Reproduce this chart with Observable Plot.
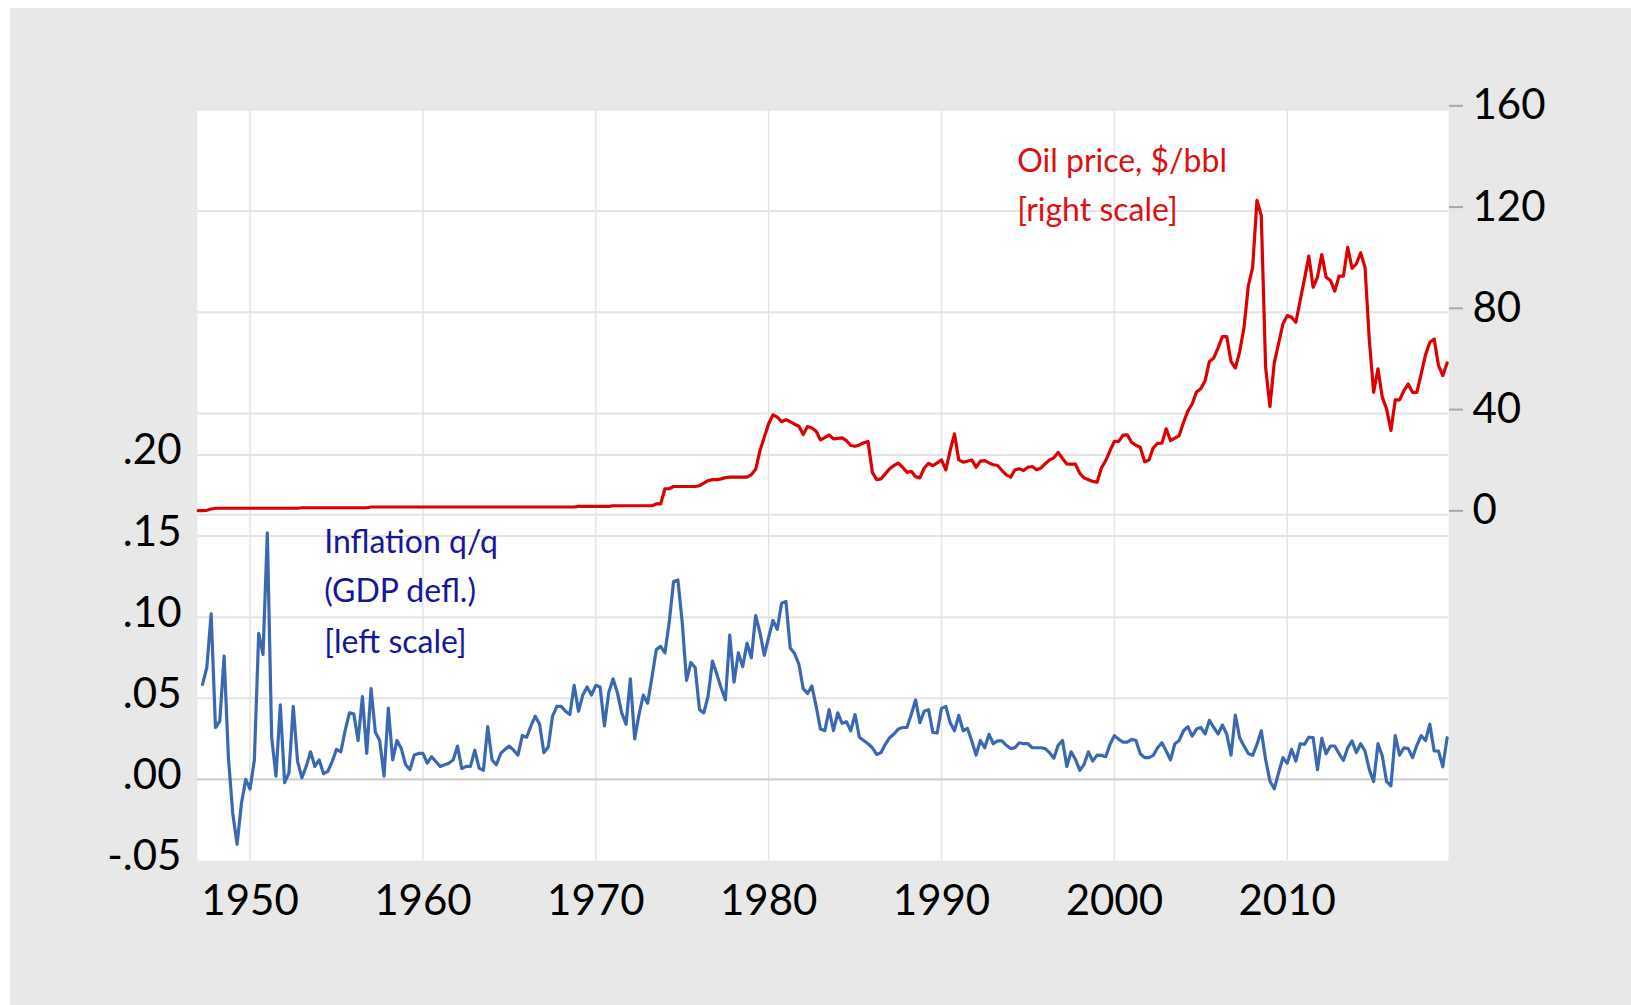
<!DOCTYPE html>
<html>
<head>
<meta charset="utf-8">
<script src="https://cdn.jsdelivr.net/npm/d3@7"></script>
<script src="https://cdn.jsdelivr.net/npm/@observablehq/plot@0.6"></script>
<style>
html, body { margin: 0; padding: 0; background: #ffffff; overflow: hidden; }
#chart { position: absolute; left: 10px; top: 8px; }
</style>
</head>
<body>
<div id="chart"></div>
<script>
// ---- data ----
const firstYear = 1947; // quarterly series, 1947Q1 .. 2019Q2

// Inflation q/q (GDP deflator), from 1947Q2 to 2019Q2 (left scale)
const inflation = [
  0.0586, 0.069, 0.102,
  0.032, 0.036, 0.076, 0.013,
  -0.021, -0.040, -0.015, 0.000,
  -0.006, 0.012, 0.090, 0.077,
  0.152, 0.026, 0.002, 0.046,
  -0.002, 0.004, 0.045, 0.011,
  0.001, 0.008, 0.017, 0.008,
  0.012, 0.0035, 0.005, 0.011,
  0.0185, 0.017, 0.030, 0.041,
  0.0405, 0.024, 0.051, 0.016,
  0.056, 0.029, 0.024, 0.002,
  0.044, 0.012, 0.024, 0.019,
  0.009, 0.006, 0.015, 0.016,
  0.016, 0.010, 0.014, 0.011,
  0.008, 0.009, 0.010, 0.012,
  0.0205, 0.0066, 0.008, 0.008,
  0.018, 0.007, 0.0056, 0.0325,
  0.012, 0.009, 0.016, 0.0185,
  0.0205, 0.018, 0.015, 0.027,
  0.026, 0.033, 0.039, 0.034,
  0.0165, 0.020, 0.039, 0.045,
  0.045, 0.042, 0.040, 0.058,
  0.042, 0.052, 0.057, 0.052,
  0.058, 0.057, 0.033, 0.0535,
  0.062, 0.0535, 0.041, 0.034,
  0.062, 0.025, 0.040, 0.052,
  0.047, 0.063, 0.080, 0.082,
  0.078, 0.097, 0.122, 0.123,
  0.097, 0.061, 0.072, 0.069,
  0.043, 0.041, 0.0515, 0.073,
  0.065, 0.0565, 0.049, 0.089,
  0.060, 0.078, 0.0695, 0.084,
  0.075, 0.101, 0.0905, 0.0765,
  0.0875, 0.098, 0.0925, 0.1086,
  0.1097, 0.081, 0.0776, 0.071,
  0.056, 0.053, 0.0576, 0.045,
  0.031, 0.030, 0.043, 0.030,
  0.041, 0.0346, 0.0356, 0.030,
  0.040, 0.026, 0.024, 0.022,
  0.0195, 0.0154, 0.0165, 0.0216,
  0.0257, 0.028, 0.031, 0.032,
  0.032, 0.040, 0.049, 0.035,
  0.042, 0.043, 0.029, 0.0286,
  0.0438, 0.045, 0.035, 0.030,
  0.0395, 0.030, 0.0315, 0.0237,
  0.015, 0.024, 0.0195, 0.0278,
  0.022, 0.0237, 0.0237, 0.021,
  0.019, 0.0195, 0.0226, 0.022,
  0.022, 0.0195, 0.0195, 0.0195,
  0.019, 0.0165, 0.013, 0.021,
  0.024, 0.008, 0.017, 0.0123,
  0.0056, 0.0093, 0.017, 0.0113,
  0.015, 0.0148, 0.014, 0.0216,
  0.027, 0.0247, 0.023, 0.023,
  0.0247, 0.024, 0.0158, 0.0134,
  0.0134, 0.0148, 0.0195, 0.0226,
  0.0175, 0.012, 0.022, 0.024,
  0.030, 0.0325, 0.0267, 0.031,
  0.032, 0.028, 0.0364, 0.032,
  0.028, 0.0335, 0.028, 0.015,
  0.0397, 0.0257, 0.0206, 0.016,
  0.0148, 0.0216, 0.030, 0.0123,
  -0.001, -0.0058, 0.004, 0.0134,
  0.010, 0.0185, 0.0113, 0.022,
  0.0216, 0.026, 0.0257, 0.006,
  0.0253, 0.0158, 0.0206, 0.0206,
  0.0158, 0.0117, 0.0195, 0.0237,
  0.0165, 0.022, 0.0175, 0.006,
  -0.0014, 0.022, 0.0144, -0.0014,
  -0.004, 0.027, 0.015, 0.0195,
  0.019, 0.0134, 0.021, 0.027,
  0.024, 0.034, 0.0175, 0.0175,
  0.0078, 0.0257
];

// Oil price, $/bbl, from 1947Q1 to 2019Q2 (right scale)
const oilPrice = [
  1.7, 1.7, 1.8, 2.3,
  2.6, 2.6, 2.6, 2.6, 2.6, 2.6, 2.6, 2.6, 2.6, 2.6,
  2.6, 2.6, 2.6, 2.6, 2.6, 2.6, 2.6, 2.6, 2.6, 2.6,
  2.8, 2.8, 2.8, 2.8, 2.8, 2.8, 2.8, 2.8,
  2.8, 2.8, 2.8, 2.8, 2.8, 2.8, 2.8, 2.8,
  3.1, 3.1, 3.1, 3.1, 3.1, 3.1, 3.1, 3.1, 3.1, 3.1, 3.1, 3.1,
  3.1, 3.1, 3.1, 3.1, 3.1, 3.1, 3.1, 3.1, 3.1, 3.1, 3.1, 3.1,
  3.1, 3.1, 3.1, 3.1, 3.1, 3.1, 3.1, 3.1, 3.1, 3.1, 3.1, 3.1,
  3.1, 3.1, 3.1, 3.1, 3.1, 3.1, 3.1, 3.1, 3.1, 3.1, 3.1, 3.1,
  3.35, 3.35, 3.35, 3.35, 3.35, 3.35, 3.35, 3.35,
  3.6, 3.6, 3.6, 3.6, 3.6, 3.6, 3.6, 3.6, 3.6, 3.6,
  4.3, 4.3,
  10.3, 10.3, 11.2, 11.2, 11.2, 11.2, 11.2, 11.2,
  11.5, 12.5, 13.5, 13.9, 13.9, 14.2, 14.7, 14.9,
  14.9, 14.9, 14.9, 14.9, 15.9, 18, 25.4, 30.7,
  36, 39.5, 38.6, 36.8, 37.6, 36.8, 35.8, 35,
  31.7, 34.9, 34.3, 33, 29.6, 30.5, 31.6, 30,
  30.2, 30.4, 29.3, 27.4, 27.1, 27.6, 28.5, 29,
  16.8, 13.9, 14.2, 16.2, 18.2, 19.5, 20.4, 18.8,
  16.8, 17.2, 15.1, 14.6, 18.5, 20.3, 19.4, 20.5,
  21.7, 17.8, 25.4, 32,
  21.7, 20.8, 21.2, 21.7, 18.8, 21.2, 21.4, 20.5,
  19.8, 19.5, 17.5, 15.8, 14.9, 17.8, 18.2, 17.5,
  18.8, 19.1, 17.8, 18.5, 20.2, 21.7, 22.5, 24.7,
  22.3, 20.1, 20.0, 20.0, 16.4, 14.6, 13.9, 13.2,
  12.9, 18.5, 21.4, 25.4, 29, 29, 31.5, 31.6,
  28.6, 27.5, 26.7, 21, 21.7, 26.5, 28.2, 28.3,
  34, 29.3, 30.3, 31.3, 36.5, 41, 43.8, 48.5,
  49.8, 53, 60.6, 62, 66, 70.4, 70.4, 60.5,
  58, 64.5, 74, 90.5, 97.8, 124.2, 118.2, 58.3,
  42.8, 60, 67.6, 75.4, 78.7, 78.1, 76.1, 84.7,
  93.2, 102.2, 89.9, 93.9, 102.8, 93.9, 92.6, 88.4,
  94.3, 94.3, 105.7, 97.4, 99.2, 103.5, 97.8, 68.9,
  48.4, 57.7, 46.5, 41.8, 33.3, 45.4, 45.4, 49.1,
  51.7, 48.4, 48.4, 55.7, 63.2, 68.2, 69.5, 59,
  55, 60
];

const yearTicks = [1950, 1960, 1970, 1980, 1990, 2000, 2010];
const leftTicks = [-0.05, 0.00, 0.05, 0.10, 0.15, 0.20];
const leftTickLabels = ["-.05", ".00", ".05", ".10", ".15", ".20"];
const rightTicks = [0, 40, 80, 120, 160];
const rightTickLabels = ["0", "40", "80", "120", "160"];

const oilNote = ["Oil price, $/bbl", "[right scale]"];
const inflationNote = ["Inflation q/q", "(GDP defl.)", "[left scale]"];

// ---- build tables ----
const inflRows = inflation.map((v, k) => ({date: firstYear + (k + 1) / 4, value: v}));
const oilRows = oilPrice.map((v, k) => ({date: firstYear + k / 4, value: v}));

// right scale ($/bbl) expressed on the left scale
const oilToLeft = d3.scaleLinear().domain([0, 160]).range([0.1631, 0.4128]);
const rightTickPos = rightTicks.map(oilToLeft);

const oilNoteRows = oilNote.map((t, k) => ({text: t, x: 1994.38, y: oilToLeft([135.4, 116.2][k])}));
const inflNoteRows = inflationNote.map((t, k) => ({text: t, x: 1954.29, y: [0.1393, 0.1091, 0.0782][k]}));

const FONT = "Lato, 'Open Sans', sans-serif";

const chart = Plot.plot({
  width: 1621,
  height: 997,
  marginLeft: 187,
  marginRight: 183,
  marginTop: 101,
  marginBottom: 145,
  style: {background: "#e8e8e8", fontFamily: FONT, overflow: "visible", color: "#000"},
  x: {type: "linear", domain: [1946.96, 2019.33]},
  y: {type: "linear", domain: [-0.05, 0.413]},
  marks: [
    Plot.frame({fill: "white", stroke: null}),
    Plot.gridX({ticks: yearTicks, stroke: "#e4e4e4", strokeOpacity: 1, strokeWidth: 1.5}),
    Plot.gridY({ticks: [0.05, 0.10, 0.15, 0.20], stroke: "#e4e4e4", strokeOpacity: 1, strokeWidth: 2}),
    Plot.gridY({ticks: rightTickPos, stroke: "#e4e4e4", strokeOpacity: 1, strokeWidth: 2}),
    Plot.ruleY([0], {stroke: "#d0d0d0", strokeWidth: 2.2}),
    Plot.lineY(oilRows, {x: "date", y: d => oilToLeft(d.value), stroke: "#dc0000", strokeWidth: 3.2, curve: "linear"}),
    Plot.lineY(inflRows, {x: "date", y: "value", stroke: "#3a69b1", strokeWidth: 3.2, curve: "linear"}),
    Plot.text(oilNoteRows, {x: "x", y: "y", text: "text", textAnchor: "start", lineAnchor: "bottom",
      fill: "#dc1010", fontSize: 32, fontFamily: FONT}),
    Plot.text(inflNoteRows, {x: "x", y: "y", text: "text", textAnchor: "start", lineAnchor: "bottom",
      fill: "#16169a", fontSize: 32, fontFamily: FONT}),
    Plot.axisY({anchor: "left", ticks: leftTicks, tickSize: 0, tickPadding: 16, label: null,
      tickFormat: d => leftTickLabels[leftTicks.indexOf(d)], fontSize: 42, dy: -4, fill: "#000"}),
    Plot.axisY({anchor: "right", ticks: rightTickPos, tickSize: 14, tickPadding: 10, label: null,
      tickFormat: d => rightTickLabels[rightTickPos.indexOf(d)], fontSize: 42, dy: -4,
      stroke: "#a8a8a8", strokeWidth: 2, fill: "#000"}),
    Plot.axisX({anchor: "bottom", ticks: yearTicks, tickSize: 0, tickPadding: 25, label: null,
      tickFormat: d => String(d), fontSize: 42, fill: "#000"})
  ]
});

document.getElementById("chart").appendChild(chart);
</script>
</body>
</html>
